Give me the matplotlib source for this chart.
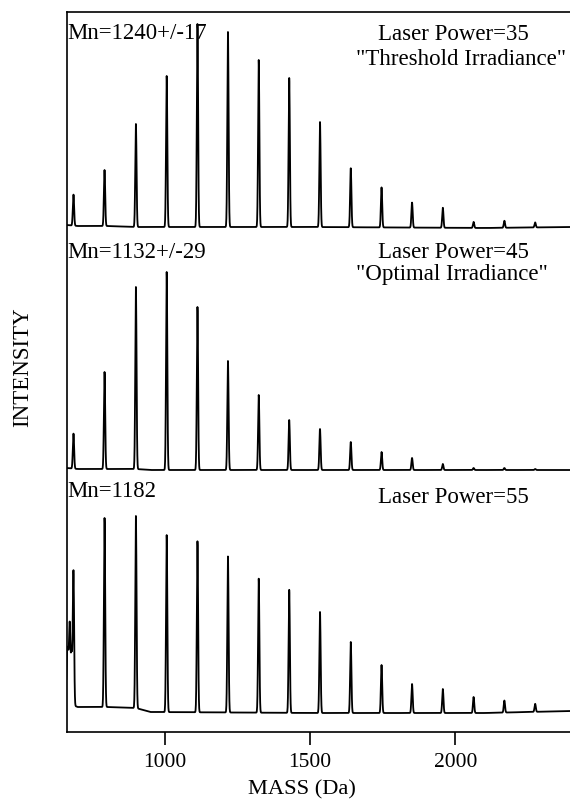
"""
MALDI spectra at three laser powers, stacked
"""

import numpy as np
import matplotlib.pyplot as plt

plt.rcParams['font.family'] = ['Liberation Serif', 'DejaVu Serif']

# oligomer peak masses (Da)
peak_mass = [685, 792, 900, 1006, 1112, 1217, 1323, 1428,
             1534, 1640, 1746, 1851, 1957, 2063, 2169, 2275]

# peak intensities (arbitrary units) for each laser power
int_35 = [31, 56, 103, 151, 203, 195, 167, 149, 105, 59, 40, 25, 20, 6, 7, 5]
int_45 = [35, 97, 182, 198, 163, 109, 75, 50, 41, 28, 18, 12, 6, 2, 2, 1]
int_55 = [133, 189, 192, 177, 171, 156, 134, 123, 101, 71, 48, 29, 24, 16, 12, 8]

# extra low-mass signal in the 55 spectrum
extra_mass_55 = [663, 667, 672, 677, 680]
extra_int_55 = [45, 40, 77, 35, 30]

# rough baseline levels
base_mass = [660, 700, 800, 900, 950, 1500, 2100, 2400]
base_35 = [4, 3, 3, 2, 2, 2, 1, 2]
base_45 = [3, 2, 2, 2, 1, 1, 1, 1]
base_55 = [12, 8, 8, 7, 3, 2, 2, 4]

mn_labels = ["Mn=1240+/-17", "Mn=1132+/-29", "Mn=1182"]
power_labels = ["Laser Power=35", "Laser Power=45", "Laser Power=55"]
irr_labels = ['"Threshold Irradiance"', '"Optimal Irradiance"', None]


def spectrum(mass, masses, heights, bmass, blevel, sigma=2.2):
    y = np.interp(mass, bmass, blevel).astype(float)
    for m, h in zip(masses, heights):
        y += h * np.exp(-0.5 * ((mass - m) / sigma) ** 2)
    return y


mass = np.arange(655, 2400, 0.5)
s35 = spectrum(mass, peak_mass, int_35, base_mass, base_35)
s45 = spectrum(mass, peak_mass, int_45, base_mass, base_45)
s55 = spectrum(mass, peak_mass + extra_mass_55, int_55 + extra_int_55, base_mass, base_55)

fig = plt.figure(figsize=(5.7, 8.08), dpi=100)
ax = fig.add_axes([66.5 / 570, 1 - 732 / 808, 1 - 66.5 / 570, 720 / 808])

offsets = [503, 261, 17]
for s, off in zip([s35, s45, s55], offsets):
    ax.plot(mass, s + off, color='black', linewidth=1.3)

ax.set_xlim(661, 2395)
ax.set_ylim(0, 720)
ax.spines['right'].set_visible(False)
for sp in ax.spines.values():
    sp.set_linewidth(1.2)
ax.set_yticks([])
ax.set_xticks([1000, 1500, 2000])
ax.tick_params(axis='x', direction='out', length=9, width=1.2, pad=6, labelsize=15.5)

mn_y = [693, 474, 235]
power_y = [692, 474, 229]
irr_y = [667, 452, None]
irr_x = [2020, 1990, None]
for i in range(3):
    ax.text(662, mn_y[i], mn_labels[i], fontsize=16.4, ha='left', va='baseline')
    ax.text(1995, power_y[i], power_labels[i], fontsize=16.5, ha='center', va='baseline')
    if irr_labels[i]:
        ax.text(irr_x[i], irr_y[i], irr_labels[i], fontsize=16.5, ha='center', va='baseline')

fig.text(23 / 570, 1 - 367 / 808, "INTENSITY", rotation=90, fontsize=16.5,
         ha='center', va='center')
fig.text(302 / 570, 1 - 790 / 808, "MASS (Da)", fontsize=16.2, ha='center', va='center')

fig.savefig("out.png", dpi=100)
